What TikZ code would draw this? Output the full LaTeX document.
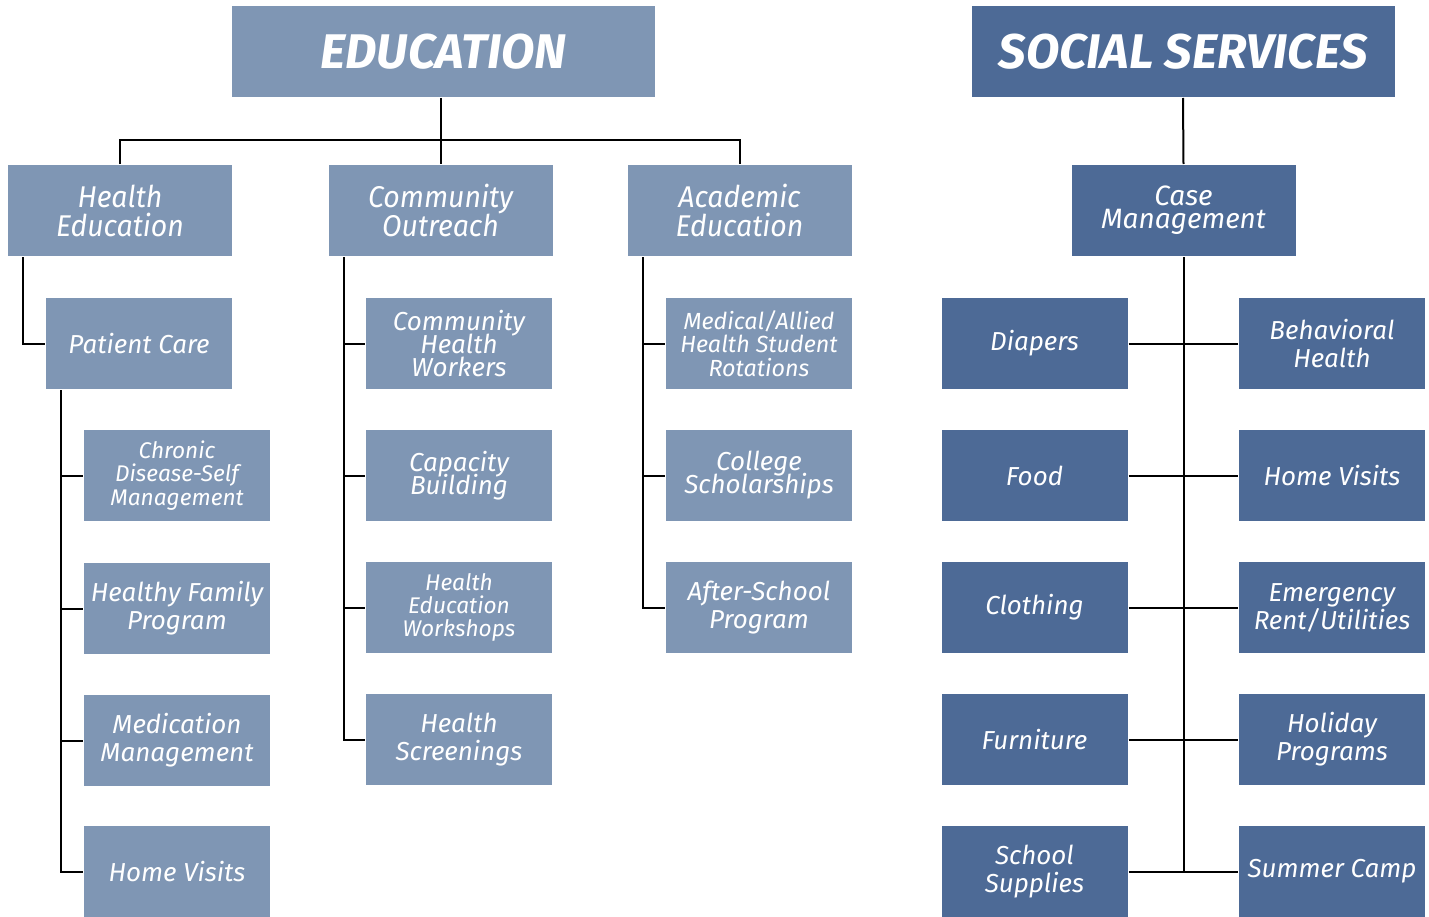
\documentclass[tikz,border=0pt]{standalone}
\usepackage{fontspec}
\setmainfont{Fira Sans}
\newfontfamily\condfont[FakeStretch=0.95]{Fira Sans}
\definecolor{edublue}{HTML}{7F96B4}
\definecolor{socblue}{HTML}{4D6A96}
\newcommand\squeezelines{\lineskiplimit=-20pt\relax}

\begin{document}
\begin{tikzpicture}[x=0.75pt,y=-0.75pt,line width=1.5pt]
    % styles
    \tikzset{
      box/.style={rectangle,text=white,align=center,inner sep=0pt,minimum height=68.25pt,
        font=\itshape\fontsize{19.5}{21}\selectfont},
      edu/.style={box,fill=edublue},
      soc/.style={box,fill=socblue},
      head/.style={minimum width=317.25pt,font=\bfseries\itshape\fontsize{36.5}{40}\selectfont},
      mid/.style={minimum width=168pt,font=\condfont\itshape\fontsize{22.5}{21.75}\selectfont},
      leaf/.style={minimum width=139.5pt},
      tight/.style={font={\itshape\fontsize{19.5}{17.25}\selectfont\squeezelines}},
      small/.style={font={\itshape\fontsize{17}{17.5}\selectfont\squeezelines}}
    }
    \useasboundingbox (0,0) rectangle (1429,917);

    % education tree
    \node[edu,head] (edu) at (443.5,51.5) {EDUCATION};
    \node[edu,mid] (he) at (120,210.5)   {Health\\Education};
    \node[edu,mid] (co) at (440.5,210.5) {Community\\Outreach};
    \node[edu,mid] (ae) at (739.5,210.5) {Academic\\Education};

    \node[edu,leaf] (pc)  at (139,343.5) {Patient Care};
    \node[edu,leaf,small] (cd) at (177,475.5) {Chronic\\Disease-Self\\Management};
    \node[edu,leaf] (hf)  at (177,608.5) {Healthy Family\\Program};
    \node[edu,leaf] (mm)  at (177,740.5) {Medication\\Management};
    \node[edu,leaf] (hv)  at (177,871.5) {Home Visits};

    \node[edu,leaf,tight] (chw) at (459,343.5) {Community\\Health\\Workers};
    \node[edu,leaf,tight] (cb)  at (459,475.5) {Capacity\\Building};
    \node[edu,leaf,small] (hew) at (459,607.5) {Health\\Education\\Workshops};
    \node[edu,leaf] (hs)  at (459,739.5) {Health\\Screenings};

    \node[edu,leaf,small,font={\itshape\fontsize{17.5}{17.5}\selectfont\squeezelines}] (mr) at (759,343.5) {Medical/Allied\\Health Student\\Rotations};
    \node[edu,leaf,tight] (cs) at (759,475.5) {College\\Scholarships};
    \node[edu,leaf] (as) at (759,607.5) {After-School\\Program};

    % social services tree
    \node[soc,head] (ss) at (1183,51.5) {SOCIAL SERVICES};
    \node[soc,minimum width=168pt,font={\itshape\fontsize{21}{17.25}\selectfont\squeezelines}] (cm) at (1183.5,210.5) {Case\\Management};

    \node[soc,leaf] (di)  at (1034.5,343.5) {Diapers};
    \node[soc,leaf] (fo)  at (1034.5,475.5) {Food};
    \node[soc,leaf] (cl)  at (1034.5,607.5) {Clothing};
    \node[soc,leaf] (fu)  at (1034.5,739.5) {Furniture};
    \node[soc,leaf] (sup) at (1034.5,871.5) {School\\Supplies};

    \node[soc,leaf] (bh)  at (1332,343.5) {Behavioral\\Health};
    \node[soc,leaf] (hvs) at (1332,475.5) {Home Visits};
    \node[soc,leaf] (er)  at (1332,607.5) {Emergency\\Rent/Utilities};
    \node[soc,leaf] (hp)  at (1332,739.5) {Holiday\\Programs};
    \node[soc,leaf] (sc)  at (1332,871.5) {Summer Camp};

    % connectors
    \draw (edu.south -| co.north) -- (co.north);
    \draw (he.north) -- ++(0,-24) -| (ae.north);
    \draw (he.south west) ++(16,0) |- (pc.west);
    \foreach \n in {cd,hf,mm,hv}
      \draw (pc.south west) ++(16,0) |- (\n.west);
    \foreach \n in {chw,cb,hew,hs}
      \draw (co.south west) ++(16,0) |- (\n.west);
    \foreach \n in {mr,cs,as}
      \draw (ae.south west) ++(16,0) |- (\n.west);

    \draw (ss.south) -- (cm.north);
    \draw (cm.south) -- (cm.south |- sc.west);
    \foreach \l/\r in {di/bh,fo/hvs,cl/er,fu/hp,sup/sc}
      \draw (\l.east) -- (\r.west);
\end{tikzpicture}
\end{document}
